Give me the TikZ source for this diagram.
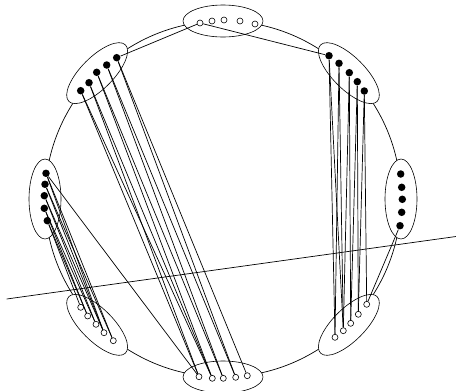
\documentclass[tikz,border=0pt]{standalone}
\begin{document}
\begin{tikzpicture}[x=1pt,y=-1pt,line width=0.7pt,
  bdot/.style={circle,fill=black,inner sep=0pt,minimum size=7.5pt},
  wdot/.style={circle,draw=black,fill=white,inner sep=0pt,minimum size=6pt,line width=0.6pt},
  grp/.style={draw=black,fill=white,line width=0.6pt}]
\useasboundingbox (0,0) rectangle (456,391);
% big circle
\draw (223,199) circle [radius=178pt];
% group ellipses
\foreach \a in {0,45,...,315}{
  \draw[grp,shift={({223+178*cos(\a)},{199-178*sin(\a)})},rotate=\a+90]
    (0,0) ellipse [x radius=40pt,y radius=16pt];
}
% top (white)
\node[wdot] (T1) at (200,23) {};
\node[wdot] (T2) at (212,21) {};
\node[wdot] (T3) at (224,20) {};
\node[wdot] (T4) at (240,21) {};
\node[wdot] (T5) at (255,24) {};
% upper right (black)
\node[bdot] (UR1) at (329,55.7) {};
\node[bdot] (UR2) at (339,63.3) {};
\node[bdot] (UR3) at (349.3,72.7) {};
\node[bdot] (UR4) at (357.3,81.7) {};
\node[bdot] (UR5) at (364.3,91) {};
% right (black)
\node[bdot] (R1) at (400.7,174) {};
\node[bdot] (R2) at (401.7,187.3) {};
\node[bdot] (R3) at (402.3,199.3) {};
\node[bdot] (R4) at (401.7,212.3) {};
\node[bdot] (R5) at (400,225.7) {};
% lower right (white)
\node[wdot] (LR1) at (335,337.3) {};
\node[wdot] (LR2) at (343.3,330.7) {};
\node[wdot] (LR3) at (350.7,323.3) {};
\node[wdot] (LR4) at (358.3,314.3) {};
\node[wdot] (LR5) at (366.7,304.3) {};
% bottom (white)
\node[wdot] (B1) at (199,376.7) {};
\node[wdot] (B2) at (212.3,378.3) {};
\node[wdot] (B3) at (223.3,378.3) {};
\node[wdot] (B4) at (235.7,377.3) {};
\node[wdot] (B5) at (247.3,375.7) {};
% lower left (white)
\node[wdot] (LL5) at (80.7,307.3) {};
\node[wdot] (LL4) at (87.7,316) {};
\node[wdot] (LL3) at (96,324.3) {};
\node[wdot] (LL2) at (104,332.7) {};
\node[wdot] (LL1) at (113.3,340.7) {};
% left (black)
\node[bdot] (L1) at (46,173.3) {};
\node[bdot] (L2) at (45,184.3) {};
\node[bdot] (L3) at (44.3,195.7) {};
\node[bdot] (L4) at (44.3,208.3) {};
\node[bdot] (L5) at (47.3,220.7) {};
% upper left (black)
\node[bdot] (UL1) at (80.7,90.7) {};
\node[bdot] (UL2) at (89,82.7) {};
\node[bdot] (UL3) at (96.7,72.3) {};
\node[bdot] (UL4) at (106.7,65) {};
\node[bdot] (UL5) at (116.7,57.7) {};
% connectors
\draw (T1) -- (UL5);
\draw (T1) -- (UR1);
\draw (L1) -- (B1);
\draw (R5) -- (LR5);
\foreach \s/\t in {UL/B,UR/LR,L/LL}{
  \foreach \i in {1,...,5}{ \draw (\s\i) -- (\t\i); }
  \foreach \i/\j in {2/1,3/2,4/3,5/4,1/2}{ \draw (\s\i) -- (\t\j); }
}
% long straight line
\coordinate (P) at (6.7,299);
\coordinate (Q) at (456,236.5);
\draw (P) -- (Q);
\end{tikzpicture}
\end{document}
